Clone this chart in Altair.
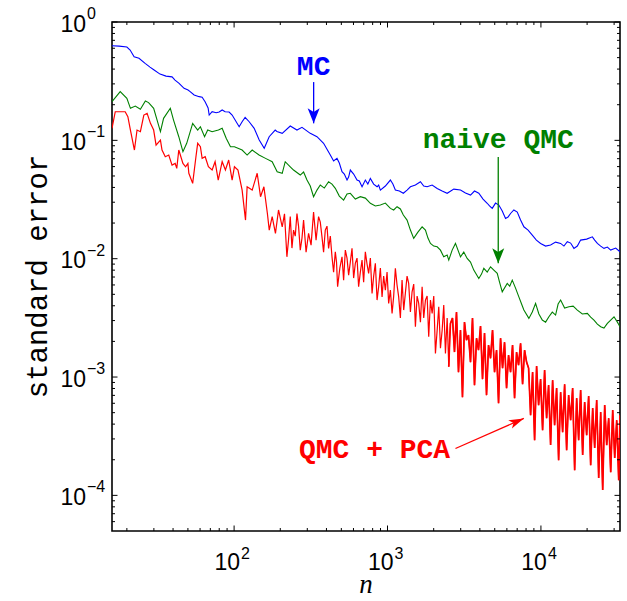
import altair as alt
import pandas as pd

W, H = 508, 509

# (n, standard error)
mc = [(16, 0.63), (17.8, 0.625), (20.0, 0.615), (21.0, 0.58), (22.3, 0.509), (24.0, 0.493),
      (26.3, 0.4475), (28.3, 0.416), (30.1, 0.393), (32.9, 0.363), (36.0, 0.349), (39.4, 0.344),
      (41.2, 0.323), (43.8, 0.303), (47.2, 0.275), (50.1, 0.266), (51.7, 0.258), (54.9, 0.2415),
      (59.2, 0.234), (61.9, 0.231), (64.7, 0.212), (67.7, 0.1875), (68.8, 0.1636), (71.9, 0.1745),
      (76.4, 0.171), (79.9, 0.1735), (83.6, 0.1804), (87.4, 0.1745), (92.8, 0.1735), (97.1, 0.1636),
      (107.9, 0.1303), (112.8, 0.1436), (118, 0.1564), (125.4, 0.1436), (135.2, 0.1263),
      (145.8, 0.1006), (157.2, 0.0856), (169.3, 0.1073), (185.3, 0.1222), (190.1, 0.1188),
      (205.9, 0.1146), (232.3, 0.1321), (256.9, 0.1222), (277, 0.1288), (313.7, 0.1146),
      (346.9, 0.1073), (383.1, 0.0944), (423.8, 0.0751), (468.6, 0.0704), (505.2, 0.0543),
      (544.6, 0.0462), (572.3, 0.0561), (632.9, 0.0462), (682.3, 0.0405), (773, 0.0477),
      (854.8, 0.0405), (898.3, 0.0380), (1044, 0.0462), (1125, 0.0380), (1268, 0.0357),
      (1410, 0.0405), (1639, 0.0447), (1812, 0.0405), (2107, 0.0392), (2448, 0.0357),
      (2990, 0.0380), (3475, 0.0345), (3936, 0.0357), (4466, 0.0294), (4815, 0.0266),
      (5317, 0.0284), (5880, 0.0219), (6339, 0.0241), (7010, 0.0248), (7742, 0.0186),
      (8784, 0.01583), (9950, 0.01346), (11563, 0.01303), (13440, 0.01346), (14862, 0.0139),
      (16413, 0.01222), (18150, 0.01436), (21644, 0.0153), (23332, 0.01346), (25766, 0.01222),
      (28500, 0.01182), (32768, 0.01143)]
mc_fine = [(445.3, 0.0669), (485.1, 0.0643), (523, 0.0519), (557.9, 0.049), (601.4, 0.0519),
           (655, 0.0453), (716.9, 0.0462), (744.5, 0.0427), (812.3, 0.0427), (875.6, 0.0419),
           (968.3, 0.0411), (1084, 0.0427), (1195, 0.0373), (1341, 0.038), (1520, 0.0419),
           (1722, 0.0411), (1954, 0.0419), (2271, 0.0373), (2704, 0.0387), (3223, 0.0359),
           (3690, 0.0373), (4194, 0.0319), (4623, 0.0279), (5060, 0.0295), (5596, 0.0253),
           (6106, 0.0225), (6661, 0.0258), (7368, 0.0212), (8247, 0.01745), (9342, 0.01436),
           (10725, 0.01278), (12464, 0.01381), (14123, 0.01278), (15620, 0.01355), (17273, 0.01278),
           (19862, 0.01464), (22407, 0.01436), (24520, 0.01278), (27114, 0.01253), (30720, 0.01229)]

naive_qmc = [(16, 0.212), (18.1, 0.258), (20.0, 0.2265), (21.1, 0.1865), (22.7, 0.195), (24.5, 0.183),
             (26.4, 0.2148), (27.7, 0.2085), (29.9, 0.1865), (33.1, 0.1183), (34.7, 0.1535),
             (38.4, 0.1865), (40.3, 0.1484), (43.6, 0.1073), (46.4, 0.0801), (49.1, 0.0944),
             (53.7, 0.1392), (57.9, 0.1222), (60.3, 0.1303), (64.2, 0.1073), (67.3, 0.1222),
             (71.9, 0.1183), (79.0, 0.1222), (83.6, 0.1263), (88.8, 0.1040), (94.7, 0.0883),
             (100.5, 0.0883), (112.8, 0.0828), (121.6, 0.0751), (131.2, 0.0828), (145.4, 0.0751),
             (160.3, 0.0704), (177.1, 0.066), (190.9, 0.0543), (205.9, 0.0526), (215.4, 0.066),
             (232.3, 0.0598), (244.1, 0.0561), (270, 0.0509), (298.6, 0.0462), (329.6, 0.0334),
             (364.6, 0.0419), (413, 0.0447), (456.8, 0.0393), (517.5, 0.0313), (572.3, 0.0357),
             (665.1, 0.0334), (773, 0.0294), (898.3, 0.0284), (1044, 0.0266), (1154, 0.0275),
             (1268, 0.0234), (1410, 0.01745), (1482, 0.01484), (1681, 0.0186), (1767, 0.01745),
             (1905, 0.01346), (2107, 0.0126), (2214, 0.0118), (2326, 0.01037), (2448, 0.01072),
             (2508, 0.00973), (2773, 0.01346), (2990, 0.01037), (3306, 0.01005), (3651, 0.00801),
             (3936, 0.00681), (4244, 0.00828), (4694, 0.00854), (5191, 0.00751), (5596, 0.00525),
             (6032, 0.00618), (6503, 0.00659), (7180, 0.00476), (7742, 0.00368), (8346, 0.00313),
             (9230, 0.00419), (10207, 0.00303), (11270, 0.00323), (12464, 0.00334), (13440, 0.00447),
             (15223, 0.00392), (17273, 0.00368), (20070, 0.00345), (22172, 0.00303), (24520, 0.00266),
             (27114, 0.00284), (29948, 0.00323), (32768, 0.00266)]
naive_fine = [(283.7, 0.054), (313.7, 0.0411), (346.9, 0.038), (387.2, 0.0395), (434.7, 0.0427),
              (485.1, 0.0338), (544.6, 0.0352), (616.9, 0.0319), (716.9, 0.0325), (833.2, 0.0279),
              (968.3, 0.0295), (1097, 0.0258), (1213, 0.0263), (1341, 0.0212), (1578, 0.01678),
              (1835, 0.01493), (2002, 0.01278), (2639, 0.01182), (3142, 0.01137), (3475, 0.00936),
              (4100, 0.00741), (4466, 0.0077), (4932, 0.00801), (5373, 0.00634), (6262, 0.00586),
              (6833, 0.00564), (7479, 0.00414), (8784, 0.00354), (9699, 0.00341), (10725, 0.00291),
              (11861, 0.00354), (12942, 0.00414), (14273, 0.00383), (16218, 0.00397), (18618, 0.00341),
              (21100, 0.00321), (23332, 0.0028), (25766, 0.00259), (28500, 0.00303), (31515, 0.00291)]

qmc_pca = [(16, 0.1263), (16.8, 0.1745), (19.5, 0.1745), (20.3, 0.1583), (21.1, 0.1222), (22.4, 0.0828),
           (23.3, 0.1222), (24.5, 0.1183), (25.8, 0.1636), (27.1, 0.169), (28.5, 0.1392), (29.9, 0.1222),
           (31.0, 0.0913), (33.1, 0.1006), (33.9, 0.0828), (35.6, 0.0727), (37.5, 0.0751), (39.4, 0.0618),
           (41.3, 0.0638), (42.3, 0.058), (43.6, 0.0828), (46.4, 0.0638), (48.3, 0.0598), (50.0, 0.0638),
           (50.7, 0.0527), (53.7, 0.0433), (56.4, 0.0727), (57.9, 0.0944), (60.3, 0.0883), (61.9, 0.0704),
           (64.8, 0.0727), (68.0, 0.0598), (71.9, 0.0561), (75.2, 0.066), (78.8, 0.0462), (83.6, 0.066),
           (87.8, 0.0561), (92.2, 0.0682), (97.1, 0.0462), (100.5, 0.0598), (106, 0.0561), (112.8, 0.038),
           (118.7, 0.0212), (121.6, 0.0405), (131.2, 0.038), (141.4, 0.0527), (148.7, 0.0334),
           (156.4, 0.0405), (164.8, 0.0241), (169.5, 0.01745), (177.1, 0.0227), (186, 0.01636),
           (194.8, 0.0258), (205.9, 0.0186), (220.9, 0.01037), (232.3, 0.0227), (244.1, 0.01745),
           (256.9, 0.0241), (270, 0.01182), (283.7, 0.0212), (305.8, 0.01636), (329.6, 0.0248),
           (355.3, 0.0227), (374, 0.0153), (393, 0.01745), (413, 0.01222), (434.7, 0.01037),
           (456.8, 0.01143), (472.8, 0.00579), (505.2, 0.01037), (530.9, 0.01182), (557.9, 0.00727),
           (587, 0.01222), (616.9, 0.00913), (648.2, 0.00579), (682.3, 0.00973), (716.9, 0.01143),
           (753.4, 0.00752), (793, 0.00509), (833.2, 0.00913), (875.6, 0.00579), (921.5, 0.00476),
           (968.3, 0.00543), (1017.5, 0.00419), (1071, 0.00345), (1125, 0.00828), (1182.5, 0.00476),
           (1244, 0.00659), (1307, 0.00509), (1374, 0.00618), (1446, 0.00525), (1520, 0.00266),
           (1597, 0.00419), (1681, 0.00579), (1767, 0.00447), (1856, 0.00219), (1954, 0.00345),
           (2053, 0.00158), (2158, 0.00392), (2271, 0.00249), (2386, 0.00158), (2508, 0.00122),
           (2573, 0.00284), (2652, 0.00315), (2733, 0.001625), (2816, 0.00354), (2902, 0.0011),
           (2990, 0.00249), (3081, 0.000676), (3175, 0.00291), (3272, 0.00205), (3372, 0.00226),
           (3475, 0.001337), (3581, 0.00315), (3690, 0.000854), (3803, 0.00213), (3919, 0.00169),
           (4039, 0.0027), (4162, 0.00096), (4289, 0.00235), (4420, 0.000703), (4555, 0.00186),
           (4694, 0.00144), (4837, 0.00249), (4985, 0.0011), (5137, 0.00169), (5294, 0.000602),
           (5455, 0.00213), (5622, 0.00119), (5793, 0.00197), (5970, 0.000806), (6152, 0.00153),
           (6339, 0.0011), (6533, 0.00186), (6732, 0.000663), (6937, 0.001625), (7149, 0.00126),
           (7368, 0.00193), (7593, 0.00087), (7825, 0.00169), (8063, 0.001337), (8309, 0.00119),
           (8563, 0.000476), (8824, 0.0011), (9094, 0.000293), (9371, 0.001236), (9657, 0.000579),
           (9950, 0.00096), (10254, 0.000356), (10567, 0.001144), (10889, 0.000449), (11221, 0.000854),
           (11563, 0.000266), (11916, 0.000941), (12279, 0.000392), (12654, 0.000806), (13040, 0.000198),
           (13440, 0.000745), (13850, 0.000342), (14272, 0.00087), (14708, 0.000241), (15156, 0.000703),
           (15620, 0.000432), (16096, 0.000806), (16587, 0.000163), (17093, 0.000663), (17614, 0.000293),
           (18150, 0.000775), (18704, 0.000219), (19274, 0.000614), (19862, 0.000323), (20468, 0.00069),
           (21100, 0.00018), (21744, 0.000546), (22407, 0.000251), (23090, 0.000638), (23795, 0.00014),
           (24520, 0.000505), (25268, 0.000111), (26038, 0.000579), (26832, 0.000266), (27651, 0.000449),
           (28500, 0.000157), (29369, 0.000525), (30265, 0.000207), (31188, 0.000432), (32139, 0.000134),
           (32768, 0.000476)]
pca_fine = [(213.1, 0.0239), (226.3, 0.01436), (238.3, 0.01229), (250.4, 0.01552), (263.1, 0.01883),
            (277, 0.01493), (294.6, 0.01137), (317.5, 0.01303), (342.2, 0.01436), (364.6, 0.02039),
            (383.1, 0.01137), (403.2, 0.01883), (423.8, 0.01552), (445.3, 0.0077), (465.2, 0.00936),
            (488.8, 0.00833), (517.5, 0.00659), (544.6, 0.01011), (572.3, 0.00936), (601.4, 0.00686),
            (632.9, 0.01011), (665.1, 0.0077), (698.9, 0.00634), (735.5, 0.0090), (773, 0.01011),
            (812.3, 0.00713), (854.8, 0.00447), (898.3, 0.00833), (943.9, 0.00713), (993.3, 0.0077),
            (1044, 0.00543), (1097, 0.00483), (1154, 0.00598), (1213, 0.00315), (1275, 0.00368),
            (1341, 0.00713), (1410, 0.00354), (1482, 0.0061), (1559, 0.00483), (1639, 0.00291),
            (1722, 0.00315), (1812, 0.00483), (1905, 0.00447), (2002, 0.00483), (2107, 0.00249),
            (2214, 0.00175), (2326, 0.00405), (2448, 0.00315), (2542, 0.00205)]

series_names = ["MC", "naive QMC", "QMC + PCA"]
series_colors = ["#0000ff", "#008000", "#ff0000"]

x_major = [100, 1000, 10000]
x_minor = [20, 30, 40, 50, 60, 70, 80, 90, 200, 300, 400, 500, 600, 700, 800, 900,
           2000, 3000, 4000, 5000, 6000, 7000, 8000, 9000, 20000, 30000]
x_exp = ["2", "3", "4"]
y_major = [1, 0.1, 0.01, 0.001, 0.0001]
y_minor = [6e-5, 7e-5, 8e-5, 9e-5, 2e-4, 3e-4, 4e-4, 5e-4, 6e-4, 7e-4, 8e-4, 9e-4,
           2e-3, 3e-3, 4e-3, 5e-3, 6e-3, 7e-3, 8e-3, 9e-3, 0.02, 0.03, 0.04, 0.05, 0.06,
           0.07, 0.08, 0.09, 0.2, 0.3, 0.4, 0.5, 0.6, 0.7, 0.8, 0.9]
y_exp = ["0", "\u22121", "\u22122", "\u22123", "\u22124"]

# annotation labels and arrows (data coordinates)
ann_text = ["MC", "naive QMC", "QMC + PCA"]
ann_n = [330, 5270, 823]
ann_err = [0.4165, 0.1006, 0.000243]
arrow_n0 = [330, 5270, 2773]
arrow_e0 = [0.3107, 0.0722, 0.000249]
arrow_n1 = [330, 5270, 7742]
arrow_e1 = [0.1392, 0.00913, 0.000447]

xs = alt.Scale(type="log", domain=[16, 32768], nice=False)
ys = alt.Scale(type="log", domain=[5e-5, 1], nice=False)
cs = alt.Scale(domain=series_names, range=series_colors)

frames = []
for name, pts in zip(series_names, [mc + mc_fine, naive_qmc + naive_fine, qmc_pca + pca_fine]):
    frames.append(pd.DataFrame({"n": [p[0] for p in pts], "err": [p[1] for p in pts], "series": name}))
lines_df = pd.concat(frames, ignore_index=True)


def series_line(df, width):
    return alt.Chart(df).mark_line(clip=True, strokeWidth=width).encode(
        x=alt.X("n:Q", scale=xs, axis=None),
        y=alt.Y("err:Q", scale=ys, axis=None),
        color=alt.Color("series:N", scale=cs, legend=None),
    )


red_df = lines_df[lines_df.series == "QMC + PCA"]
lines = [series_line(red_df, 1.2),
         series_line(red_df[red_df.n >= 2500], 1.7),   # the dense band is drawn heavier
         series_line(lines_df[lines_df.series == "naive QMC"], 1.1),
         series_line(lines_df[lines_df.series == "MC"], 1.1)]


def xticks(vals, length, top):
    y0, y1 = (0, length) if top else (H, H - length)
    return alt.Chart(pd.DataFrame({"v": vals})).mark_rule(color="black", strokeWidth=1).encode(
        x=alt.X("v:Q", scale=xs, axis=None), y=alt.value(y0), y2=alt.value(y1))


def yticks(vals, length, right):
    x0, x1 = (W, W - length) if right else (0, length)
    return alt.Chart(pd.DataFrame({"v": vals})).mark_rule(color="black", strokeWidth=1).encode(
        y=alt.Y("v:Q", scale=ys, axis=None), x=alt.value(x0), x2=alt.value(x1))


ticks = [xticks(x_major, 5.5, False), xticks(x_major, 5.5, True),
         xticks(x_minor, 3, False), xticks(x_minor, 3, True),
         yticks(y_major, 5.5, False), yticks(y_major, 5.5, True),
         yticks(y_minor, 3, False), yticks(y_minor, 3, True)]

ylab_df = pd.DataFrame({"v": y_major, "e": y_exp})
xlab_df = pd.DataFrame({"v": x_major, "e": x_exp})
LF = "Liberation Sans"
ylab10 = alt.Chart(ylab_df).mark_text(text="10", align="right", baseline="alphabetic", dy=9.5,
                                      font=LF, fontSize=23, color="black").encode(
    y=alt.Y("v:Q", scale=ys, axis=None), x=alt.value(-26))
ylabe = alt.Chart(ylab_df).mark_text(align="left", baseline="alphabetic", dy=-3,
                                     font=LF, fontSize=16, color="black").encode(
    y=alt.Y("v:Q", scale=ys, axis=None), x=alt.value(-25), text="e:N")
xlab10 = alt.Chart(xlab_df).mark_text(text="10", align="right", baseline="alphabetic", dx=6,
                                      font=LF, fontSize=23, color="black").encode(
    x=alt.X("v:Q", scale=xs, axis=None), y=alt.value(H + 38.5))
xlabe = alt.Chart(xlab_df).mark_text(align="left", baseline="alphabetic", dx=7,
                                     font=LF, fontSize=16, color="black").encode(
    x=alt.X("v:Q", scale=xs, axis=None), y=alt.value(H + 27.5), text="e:N")

one = pd.DataFrame({"k": [0]})
ytitle = alt.Chart(one).mark_text(text="standard error", angle=270, align="center", baseline="middle",
                                  font="Liberation Mono", fontSize=29, color="black").encode(
    x=alt.value(-74), y=alt.value(H / 2))
xtitle = alt.Chart(one).mark_text(text="n", align="center", baseline="alphabetic",
                                  font="Liberation Serif", fontStyle="italic", fontSize=27,
                                  color="black").encode(
    x=alt.value(W / 2), y=alt.value(H + 62))

ann_df = pd.DataFrame({"t": ann_text, "n": ann_n, "err": ann_err, "series": series_names})
ann = alt.Chart(ann_df).mark_text(font="Liberation Mono", fontWeight="bold", fontSize=28,
                                  align="center", baseline="middle").encode(
    x=alt.X("n:Q", scale=xs, axis=None), y=alt.Y("err:Q", scale=ys, axis=None), text="t:N",
    color=alt.Color("series:N", scale=cs, legend=None))

arr_df = pd.DataFrame({"n0": arrow_n0, "e0": arrow_e0, "n1": arrow_n1, "e1": arrow_e1,
                       "series": series_names})
arr_lines = alt.Chart(arr_df).mark_rule(strokeWidth=1.3).encode(
    x=alt.X("n0:Q", scale=xs, axis=None), y=alt.Y("e0:Q", scale=ys, axis=None),
    x2="n1:Q", y2="e1:Q", color=alt.Color("series:N", scale=cs, legend=None))

HEAD = "M0,1L-0.8,-1L0,-0.5L0.8,-1Z"
heads_v = alt.Chart(arr_df.iloc[:2]).mark_point(shape=HEAD, size=225, filled=True, opacity=1,
                                                strokeWidth=0, yOffset=-7.5).encode(
    x=alt.X("n1:Q", scale=xs, axis=None), y=alt.Y("e1:Q", scale=ys, axis=None),
    color=alt.Color("series:N", scale=cs, legend=None))
head_pca = alt.Chart(arr_df.iloc[2:]).mark_point(shape="M0,1L-0.6,-1L0,-0.5L0.6,-1Z", size=225,
                                                 filled=True, opacity=1, strokeWidth=0, angle=246.3,
                                                 xOffset=-6.9, yOffset=3.0).encode(
    x=alt.X("n1:Q", scale=xs, axis=None), y=alt.Y("e1:Q", scale=ys, axis=None),
    color=alt.Color("series:N", scale=cs, legend=None))

chart = alt.layer(
    *lines, *ticks, ylab10, ylabe, xlab10, xlabe, ytitle, xtitle, ann, arr_lines, heads_v, head_pca
).properties(
    width=W, height=H,
    padding={"left": 112, "top": 22, "right": 7, "bottom": 70},
    autosize=alt.AutoSizeParams(type="none"),
    background="white",
).configure_view(stroke="black", strokeWidth=1.6)

chart.save("out.html", embed_options={"renderer": "svg", "actions": False})
